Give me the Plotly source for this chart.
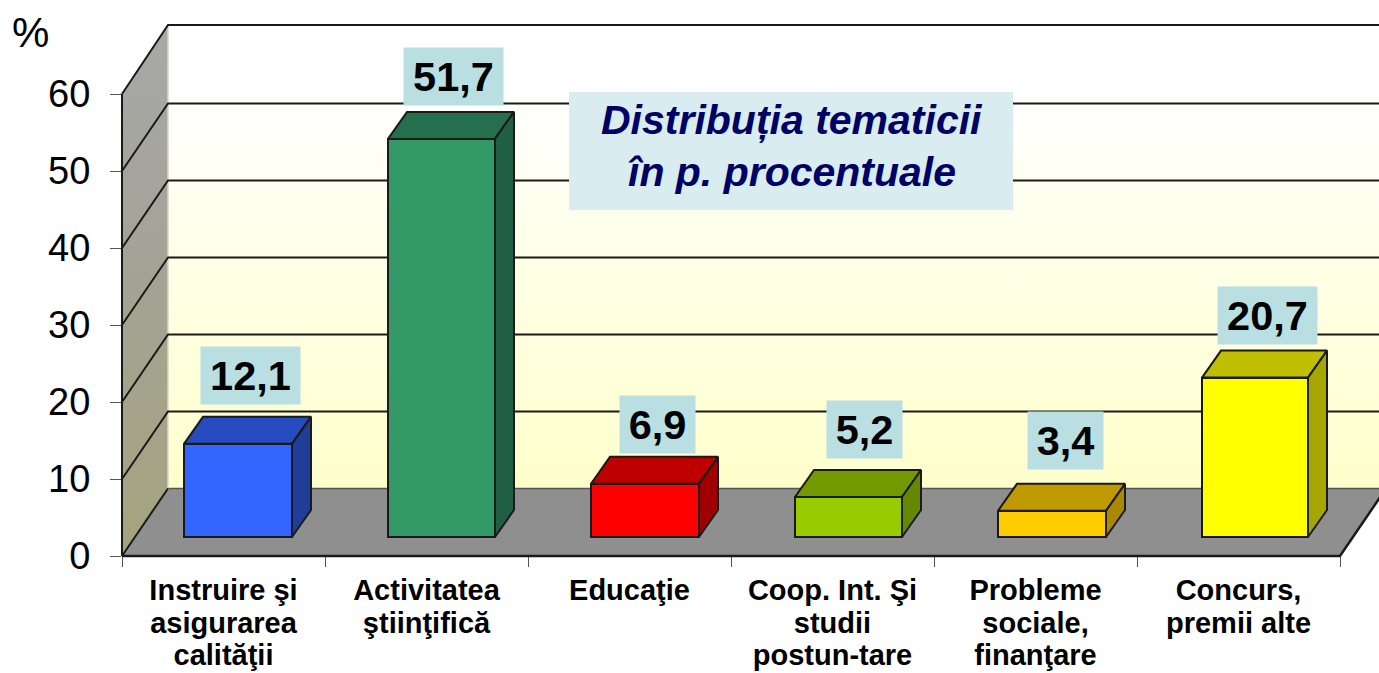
import plotly.graph_objects as go

categories = ["Instruire şi<br>asigurarea<br>calităţii", "Activitatea<br>ştiinţifică", "Educaţie",
              "Coop. Int. Şi<br>studii<br>postun-tare", "Probleme<br>sociale,<br>finanţare", "Concurs,<br>premii alte"]
values = [12.1, 51.7, 6.9, 5.2, 3.4, 20.7]
labels = ["12,1", "51,7", "6,9", "5,2", "3,4", "20,7"]
front_colors = ["#3366FF", "#339966", "#FF0000", "#99CC00", "#FFCC00", "#FFFF00"]
top_colors = ["#264CBF", "#266F4C", "#BF0000", "#739900", "#BF9900", "#BFBF00"]
side_colors = ["#1F3D99", "#215F43", "#A00000", "#668800", "#AA8800", "#A6A600"]
y_ticks = [0, 10, 20, 30, 40, 50, 60]

W, H = 1379, 673
X0, PXU = 122.0, 203.0     # pixel of x=0, pixels per category
Y0, PYU = 556.0, 7.7       # pixel of y=0, pixels per percent
def ux(p): return (p - X0) / PXU
def uy(p): return (Y0 - p) / PYU

DX, DY = ux(168), uy(488.5)      # wall depth in data units
BX, BY = 19 / PXU, 27 / PYU      # bar depth
BASE = uy(537)
BAR_LEFTS = [184, 388, 591, 795, 998, 1202]
BAR_WIDTHS = [108, 107, 108, 107, 108, 106]
LABEL_DX = [12.5, 12, 12.5, 16, 13.5, 12.5]   # box centre relative to bar front centre, px
LABEL_DY = [68.5, 62.5, 59.5, 67.5, 70.5, 62.5]  # box centre above bar front top, px
XR = ux(1386.5) - DX             # wall width
TOP = uy(25)
INK = "#1a1a1a"

fig = go.Figure()

# an invisible trace keeps the tick-bearing axes alive
fig.add_trace(go.Scatter(x=[0, 6], y=[0, 60], mode="lines", line=dict(width=0), xaxis="x", yaxis="y",
                         hoverinfo="skip", showlegend=False))

def poly(xs, ys, color=None, line=None, lw=2, axes=("x2", "y2"), gradient=None):
    kw = dict(x=xs, y=ys, mode="lines", hoverinfo="skip", showlegend=False,
              xaxis=axes[0], yaxis=axes[1], line=dict(color=line or "rgba(0,0,0,0)", width=lw))
    if gradient:
        kw.update(fill="toself", fillgradient=gradient)
    elif color:
        kw.update(fill="toself", fillcolor=color)
    fig.add_trace(go.Scatter(**kw))

# back wall
poly([DX, DX + XR, DX + XR, DX, DX], [DY, DY, TOP, TOP, DY], gradient=dict(
    type="vertical",
    colorscale=[[0, "#FFFFCC"], [0.5, "#FFFFE8"], [0.85, "#FFFFFF"], [1, "#FFFFFF"]]))
# left wall
poly([0, 0, DX, DX, 0], [0, 60, TOP, DY, 0], gradient=dict(
    type="vertical",
    colorscale=[[0, "#A5A37E"], [0.55, "#A3A396"], [1, "#A8A8A8"]]))
# floor
poly([0, 6, 6 + DX, DX, 0], [0, 0, DY, DY, 0], color="#8F8F8F")
poly([DX, 6 + DX], [DY, DY], line="#555555", lw=1.5)
poly([DX, DX], [DY, TOP], line="#D8D8C8", lw=1.5)
# wall grid
for t in y_ticks[1:-1]:
    poly([0, DX, DX + XR], [t, t + DY, t + DY], line=INK, lw=2)
poly([0, DX, DX + XR], [60, TOP, TOP], line=INK, lw=2)
poly([0, DX], [0, DY], line=INK, lw=2)
poly([0, 6, 6 + DX], [0, 0, DY], line=INK, lw=2.5)
poly([0, 0], [0, 60], line=INK, lw=2)

# bars in an overlaid pair of axes, so they sit above the walls
x_mid = [ux(l + w / 2) for l, w in zip(BAR_LEFTS, BAR_WIDTHS)]
bar_w = [w / PXU for w in BAR_WIDTHS]
fig.add_trace(go.Bar(x=x_mid, y=values, base=BASE, width=bar_w, xaxis="x3", yaxis="y3",
                     marker=dict(color=front_colors, line=dict(color=INK, width=2)),
                     hoverinfo="skip", showlegend=False))
for xm, bw, v, tc, sc in zip(x_mid, bar_w, values, top_colors, side_colors):
    l, r, b, t = xm - bw / 2, xm + bw / 2, BASE, BASE + v
    poly([l, r, r + BX, l + BX, l], [t, t, t + BY, t + BY, t], color=tc, line=INK, axes=("x3", "y3"))
    poly([r, r + BX, r + BX, r, r], [b, b + BY, t + BY, t, b], color=sc, line=INK, axes=("x3", "y3"))

# value labels
for xm, v, s, dx, dy in zip(x_mid, values, labels, LABEL_DX, LABEL_DY):
    fig.add_annotation(x=xm + dx / PXU, y=BASE + v + dy / PYU, text=f"<b>{s}</b>", showarrow=False,
                       xref="x3", yref="y3", width=99 if len(s) == 4 else 75, height=57, bgcolor="#B9DFE3",
                       borderpad=0, font=dict(size=41.5, color="#000000", family="Liberation Sans"))

# caption box
fig.add_shape(type="rect", x0=ux(569), x1=ux(1013), y0=uy(210), y1=uy(92), xref="x3", yref="y3",
              fillcolor="#D9ECEF", line_width=0, layer="above")
for txt, py in [("Distribuția tematicii", 120), ("în p. procentuale", 172)]:
    fig.add_annotation(x=ux(791.5), y=uy(py), text=f"<b><i>{txt}</i></b>", showarrow=False, xref="x3", yref="y3",
                       font=dict(size=41, color="#000066", family="Liberation Sans"))
fig.add_annotation(x=ux(30), y=uy(32.5), text="%", showarrow=False, xref="x3", yref="y3",
                   font=dict(size=42, color="#000000", family="Liberation Sans"))

axis_common = dict(showgrid=False, zeroline=False, automargin=False)
full_x = [ux(0), ux(W)]
full_y = [uy(H), uy(0)]
fig.update_layout(
    width=W, height=H, autosize=False, margin=dict(l=0, r=0, t=0, b=0, pad=0),
    paper_bgcolor="white", plot_bgcolor="rgba(0,0,0,0)", bargap=0, showlegend=False,
    xaxis=dict(domain=[122 / W, 1340 / W], anchor="y", range=[0, 6], tickvals=[i + 0.5 for i in range(6)],
               ticktext=["<br>".join(f"<span style='font-size:29px'><b>{p}</b></span>" for p in c.split("<br>"))
                         for c in categories], ticks="",
               showline=False, tickfont=dict(size=25, color="#000000", family="Liberation Sans"),
               minor=dict(ticks="outside", tick0=0, dtick=1, ticklen=10, tickcolor="#555555", tickwidth=1),
               ticklabelstandoff=18, tickangle=0, **axis_common),
    yaxis=dict(domain=[(H - 556) / H, (H - 94) / H], anchor="x", range=[0, 60], tickvals=y_ticks,
               ticks="outside", ticklen=11, tickcolor="#555555", tickwidth=1, showline=False,
               tickfont=dict(size=38, color="#000000", family="Liberation Sans"),
               ticklabelstandoff=12, **axis_common),
    xaxis2=dict(domain=[0, 1], anchor="y2", range=full_x, visible=False, **axis_common),
    yaxis2=dict(domain=[0, 1], anchor="x2", range=full_y, visible=False, **axis_common),
    xaxis3=dict(overlaying="x2", anchor="y3", range=full_x, visible=False, **axis_common),
    yaxis3=dict(overlaying="y2", anchor="x3", range=full_y, visible=False, **axis_common),
)

fig.write_html("out.html", config=dict(displayModeBar=False),
               post_script="document.body.style.margin='0';")
